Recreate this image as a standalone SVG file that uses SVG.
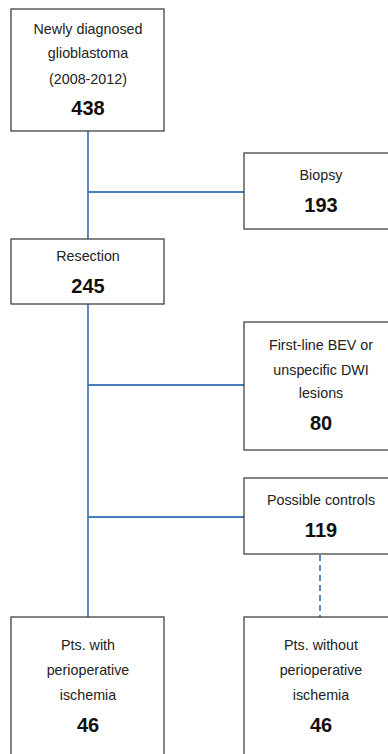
<svg xmlns="http://www.w3.org/2000/svg" width="388" height="754" viewBox="0 0 388 754">
<style>
.box{fill:#fff;stroke:#333;stroke-width:1.2}
.t{font-family:"Liberation Sans",Arial,sans-serif;font-size:14.3px;fill:#222;text-anchor:middle}
.n{font-family:"Liberation Sans",Arial,sans-serif;font-size:20px;font-weight:bold;fill:#111;text-anchor:middle}
.c{stroke:#4a7ebb;stroke-width:1.8;fill:none}
.d{stroke:#4a7ebb;stroke-width:1.8;fill:none;stroke-dasharray:6,4}
</style>
<rect width="388" height="754" fill="#fff"/>
<g id="connectors">
<line class="c" x1="88" y1="131" x2="88" y2="239"/>
<line class="c" x1="88" y1="192" x2="244" y2="192"/>
<line class="c" x1="88" y1="304" x2="88" y2="617"/>
<line class="c" x1="88" y1="385" x2="244" y2="385"/>
<line class="c" x1="88" y1="517" x2="244" y2="517"/>
<line class="d" x1="320" y1="555" x2="320" y2="617"/>
</g>
<g id="n1">
<rect class="box" x="11" y="9" width="153" height="122"/>
<text class="t" x="88" y="34">Newly diagnosed</text>
<text class="t" x="88" y="58">glioblastoma</text>
<text class="t" x="88" y="84">(2008-2012)</text>
<text class="n" x="88" y="115">438</text>
</g>
<g id="n2">
<rect class="box" x="244" y="153" width="150" height="76"/>
<text class="t" x="321" y="180">Biopsy</text>
<text class="n" x="321" y="212">193</text>
</g>
<g id="n3">
<rect class="box" x="11" y="239" width="153" height="65"/>
<text class="t" x="88" y="261">Resection</text>
<text class="n" x="88" y="293">245</text>
</g>
<g id="n4">
<rect class="box" x="244" y="322" width="150" height="128"/>
<text class="t" x="321" y="350">First-line BEV or</text>
<text class="t" x="321" y="375">unspecific DWI</text>
<text class="t" x="321" y="398">lesions</text>
<text class="n" x="321" y="430">80</text>
</g>
<g id="n5">
<rect class="box" x="244" y="478" width="150" height="76"/>
<text class="t" x="321" y="505">Possible controls</text>
<text class="n" x="321" y="537">119</text>
</g>
<g id="n6">
<rect class="box" x="11" y="617" width="153" height="145"/>
<text class="t" x="88" y="650">Pts. with</text>
<text class="t" x="88" y="675">perioperative</text>
<text class="t" x="88" y="700">ischemia</text>
<text class="n" x="88" y="732">46</text>
</g>
<g id="n7">
<rect class="box" x="244" y="617" width="150" height="145"/>
<text class="t" x="321" y="650">Pts. without</text>
<text class="t" x="321" y="675">perioperative</text>
<text class="t" x="321" y="700">ischemia</text>
<text class="n" x="321" y="732">46</text>
</g>
</svg>
